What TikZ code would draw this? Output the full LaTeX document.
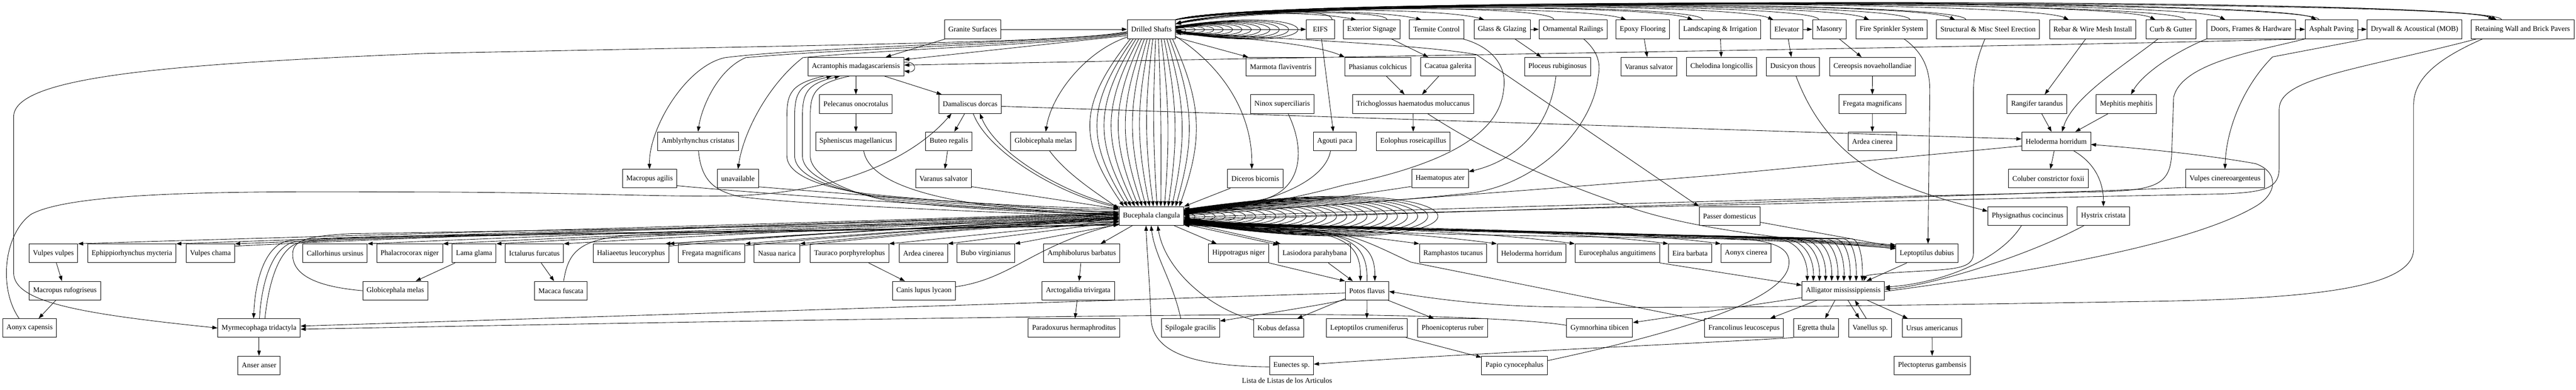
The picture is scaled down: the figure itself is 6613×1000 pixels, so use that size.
\documentclass[tikz,border=0pt]{standalone}
\usepackage{fontspec}
\setmainfont{Liberation Serif}
\usetikzlibrary{arrows.meta,calc}
\begin{document}
\begin{tikzpicture}[x=0.7512pt,y=-0.7512pt,
 box/.style={draw,line width=0.9pt,minimum height=36pt,minimum width=54pt,inner xsep=7.5pt,inner ysep=0pt,font=\fontsize{14pt}{16pt}\selectfont},
 edg/.style={line width=0.85pt,-{Triangle[length=10pt,width=7pt]}},
 edgr/.style={line width=0.85pt,{Triangle[length=10pt,width=7pt]}-},
 lin/.style={line width=0.85pt},
 captxt/.style={font=\fontsize{14pt}{16pt}\selectfont}]
\fill[white] (0,0) rectangle (6613,1000);
\useasboundingbox (0,0) rectangle (6613,1000);
% ---------------- row 0
\node[box] (gran) at (2497.1,75.3) {Granite Surfaces};
\node[box] (ds) at (2955.9,75.3) {Drilled Shafts};
\node[box] (eifs) at (3389.5,75.3) {EIFS};
\node[box] (exts) at (3521.3,75.3) {Exterior Signage};
\node[box] (term) at (3688,75.3) {Termite Control};
\node[box] (glass) at (3856,75.3) {Glass \& Glazing};
\node[box] (orn) at (4038.3,75.3) {Ornamental Railings};
\node[box] (epoxy) at (4216.9,75.3) {Epoxy Flooring};
\node[box] (land) at (4415.8,75.3) {Landscaping \& Irrigation};
\node[box] (elev) at (4586.6,75.3) {Elevator};
\node[box] (mas) at (4696,75.3) {Masonry};
\node[box] (fire) at (4855.7,75.3) {Fire Sprinkler System};
\node[box] (struc) at (5103.6,75.3) {Structural \& Misc Steel Erection};
\node[box] (rebar) at (5372.3,75.3) {Rebar \& Wire Mesh Install};
\node[box] (curb) at (5573.1,75.3) {Curb \& Gutter};
\node[box] (doors) at (5778.7,75.3) {Doors, Frames \& Hardware};
\node[box] (asph) at (5985.2,75.3) {Asphalt Paving};
\node[box] (dryw) at (6198.5,75.3) {Drywall \& Acoustical (MOB)};
\node[box] (retw) at (6475.7,75.3) {Retaining Wall and Brick Pavers};
% ---------------- row 1
\node[box] (acr) at (2197.2,171.1) {Acrantophis madagascariensis};
\node[box] (marm) at (3287.7,171.1) {Marmota flaviventris};
\node[box] (phas) at (3537.1,171.1) {Phasianus colchicus};
\node[box] (caca) at (3717.5,171.1) {Cacatua galerita};
\node[box] (ploc) at (3998.3,171.1) {Ploceus rubiginosus};
\node[box] (varB) at (4232.7,171.1) {Varanus salvator};
\node[box] (chel) at (4419.6,171.1) {Chelodina longicollis};
\node[box] (dus) at (4602.7,171.1) {Dusicyon thous};
\node[box] (cere) at (4806.9,171.1) {Cereopsis novaehollandiae};
% ---------------- row 2
\node[box] (pel) at (2197.2,267.0) {Pelecanus onocrotalus};
\node[box] (dam) at (2490.4,267.0) {Damaliscus dorcas};
\node[box] (ninox) at (3291.6,267.0) {Ninox superciliaris};
\node[box] (trich) at (3627.6,267.0) {Trichoglossus haematodus moluccanus};
\node[box] (fregB) at (4806.5,267.0) {Fregata magnificans};
\node[box] (rang) at (5229.2,267.0) {Rangifer tarandus};
\node[box] (meph) at (5458.5,267.0) {Mephitis mephitis};
% ---------------- row 3
\node[box] (amb) at (1792,362.8) {Amblyrhynchus cristatus};
\node[box] (sphen) at (2197.2,362.8) {Spheniscus magellanicus};
\node[box] (buteo) at (2436,362.8) {Buteo regalis};
\node[box] (globB) at (2678.5,362.8) {Globicephala melas};
\node[box] (agouti) at (3426.7,362.8) {Agouti paca};
\node[box] (eolo) at (3628,362.8) {Eolophus roseicapillus};
\node[box] (ardB) at (4806.6,362.8) {Ardea cinerea};
\node[box] (heloB) at (5278.6,362.8) {Heloderma horridum};
% ---------------- row 4
\node[box] (magil) at (1667.5,458.7) {Macropus agilis};
\node[box] (unav) at (1894.5,458.7) {unavailable};
\node[box] (varA) at (2422,458.7) {Varanus salvator};
\node[box] (dic) at (3222.5,458.7) {Diceros bicornis};
\node[box] (haem) at (3696.7,458.7) {Haematopus ater};
\node[box] (colu) at (5258.3,458.7) {Coluber constrictor foxii};
\node[box] (vcin) at (5711.8,458.7) {Vulpes cinereoargenteus};
% ---------------- row 5
\node[box] (buc) at (2955.9,554.5) {Bucephala clangula};
\node[box] (pass) at (4440,554.5) {Passer domesticus};
\node[box] (phys) at (5205.3,554.5) {Physignathus cocincinus};
\node[box] (hyst) at (5399.7,554.5) {Hystrix cristata};
% ---------------- row 6
\node[box] (vvul) at (137.1,650.4) {Vulpes vulpes};
\node[box] (ephi) at (338.5,650.4) {Ephippiorhynchus mycteria};
\node[box] (vcha) at (540.2,650.4) {Vulpes chama};
\node[box] (call) at (860.1,650.4) {Callorhinus ursinus};
\node[box] (phal) at (1051.6,650.4) {Phalacrocorax niger};
\node[box] (lama) at (1217.1,650.4) {Lama glama};
\node[box] (icta) at (1371.8,650.4) {Ictalurus furcatus};
\node[box] (hali) at (1619.8,650.4) {Haliaeetus leucoryphus};
\node[box] (fregA) at (1826.4,650.4) {Fregata magnificans};
\node[box] (nasua) at (1994.5,650.4) {Nasua narica};
\node[box] (taur) at (2181,650.4) {Tauraco porphyrelophus};
\node[box] (ardA) at (2370.8,650.4) {Ardea cinerea};
\node[box] (bubo) at (2530.5,650.4) {Bubo virginianus};
\node[box] (amph) at (2777,650.4) {Amphibolurus barbatus};
\node[box] (hipp) at (3179.7,650.4) {Hippotragus niger};
\node[box] (lasi) at (3374.8,650.4) {Lasiodora parahybana};
\node[box] (ramph) at (3730.4,650.4) {Ramphastos tucanus};
\node[box] (heloA) at (3931.8,650.4) {Heloderma horridum};
\node[box] (euro) at (4152,650.4) {Eurocephalus anguitimens};
\node[box] (eira) at (4338.6,650.4) {Eira barbata};
\node[box] (aonc) at (4482.4,650.4) {Aonyx cinerea};
\node[box] (lepd) at (4946.5,650.4) {Leptoptilus dubius};
% ---------------- row 7
\node[box] (mruf) at (166.6,746.2) {Macropus rufogriseus};
\node[box] (globA) at (1014.8,746.2) {Globicephala melas};
\node[box] (maca) at (1439.9,746.2) {Macaca fuscata};
\node[box] (canis) at (2371.9,746.2) {Canis lupus lycaon};
\node[box] (arct) at (2767.9,746.2) {Arctogalidia trivirgata};
\node[box] (potos) at (3509.4,746.2) {Potos flavus};
\node[box] (alli) at (4731.8,746.2) {Alligator mississippiensis};
% ---------------- row 8
\node[box] (aoncap) at (76.1,842.1) {Aonyx capensis};
\node[box] (myrm) at (665,842.1) {Myrmecophaga tridactyla};
\node[box] (parad) at (2757,842.1) {Paradoxurus hermaphroditus};
\node[box] (spil) at (3056.2,842.1) {Spilogale gracilis};
\node[box] (kobus) at (3282.5,842.1) {Kobus defassa};
\node[box] (lcrum) at (3508.7,842.1) {Leptoptilos crumeniferus};
\node[box] (phoen) at (3729,842.1) {Phoenicopterus ruber};
\node[box] (gymn) at (4106.4,842.1) {Gymnorhina tibicen};
\node[box] (fran) at (4477.2,842.1) {Francolinus leucoscepus};
\node[box] (egr) at (4662.3,842.1) {Egretta thula};
\node[box] (van) at (4801,842.1) {Vanellus sp.};
\node[box] (ursus) at (4959.8,842.1) {Ursus americanus};
% ---------------- row 9
\node[box] (anser) at (665,937.9) {Anser anser};
\node[box] (eun) at (3315.5,937.9) {Eunectes sp.};
\node[box] (papio) at (3887.9,937.9) {Papio cynocephalus};
\node[box] (plec) at (4960.2,937.9) {Plectopterus gambensis};
\node[captxt] (caption) at (3304,977) {Lista de Listas de los Articulos};

% ================= edges: top row
\draw[edg] (gran) -- (ds);
\draw[edg] (ds) -- (eifs);
\draw[edg] (glass) -- (orn);
\draw[edg] (elev) -- (mas);
\draw[edg] (doors) -- (asph);
\draw[edg] (asph) -- (dryw);
% Drilled Shafts self loops
\foreach \iv in {1,...,13}{
 \pgfmathsetmacro\exv{2+1.7*\iv}
 \pgfmathsetmacro\av{\exv/3}
 \pgfmathsetmacro\hv{(\exv-0.792*\av)/0.288}
 \pgfmathsetmacro\cxv{24*\iv/0.75}
 \draw[edg] ($(ds.east)+(0,-\av)$) .. controls ($(ds.east)+(\cxv,-\av-\hv)$) and ($(ds.east)+(\cxv,\av+\hv)$) .. ($(ds.east)+(0,\av)$);
}
% Drilled Shafts -> top row tasks
\foreach \tg/\dxv/\ycv in {exts/34/30, term/31/24, glass/27/19, epoxy/27/14, land/35/10, elev/8/6, fire/35/3, struc/48/0, rebar/50/-2, curb/25/-4, doors/48/-5, asph/29/-6, retw/58/-7, retw/66/-3}{
 \draw[edg] (ds.north east) .. controls (3170,\ycv) and ($(\tg.north west)+(\dxv-110,\ycv-51.4)$) .. ($(\tg.north west)+(\dxv,0)$);
}
% top row tasks -> Drilled Shafts
\foreach \tg/\dxv/\ycv in {eifs/67/22, exts/113/26, orn/39/12, land/61/8, mas/17/4, fire/140/1, struc/76/-1, curb/102/-3, asph/36/-5, retw/79/-8}{
 \draw[edgr] ($(ds.east)+(0,-14)$) .. controls (3230,\ycv) and ($(\tg.north west)+(\dxv,\ycv-51.4)$) .. ($(\tg.north west)+(\dxv,0)$);
}
% Drilled Shafts -> left side
\draw[edg] ($(ds.west)+(0,6)$) .. controls (2750,108) and (2300,112) .. (1100,137) .. controls (400,165) and (35,200) .. (35,300) -- (35,700) .. controls (35,775) and (200,805) .. (myrm.west);
\draw[edg] ($(ds.west)+(0,8)$) .. controls (2750,108) and (2100,118) .. (1861,148) .. controls (1760,170) and (1665,330) .. (magil.north);
\draw[edg] ($(ds.west)+(0,10)$) .. controls (2750,110) and (2200,122) .. (1914,148) .. controls (1840,180) and (1800,280) .. (amb.north);
\draw[edg] ($(ds.west)+(0,12)$) .. controls (2750,112) and (2300,125) .. (2061,148) .. controls (1980,210) and (1910,330) .. (unav.north);
\draw[edg] ($(ds.west)+(0,16)$) -- ($(acr.east)+(0,-18)$);
\draw[edg] ($(ds.west)+(0,20)$) .. controls (2790,130) and (2700,240) .. ($(globB.north)+(6,0)$);
\draw[edg] ($(ds.east)+(0,18)$) .. controls (3150,180) and (3215,300) .. ($(dic.north)+(-9,0)$);
\draw[edg] ($(ds.south east)+(0,-4)$) -- ($(marm.north west)+(6,0)$);
\draw[edg] ($(ds.east)+(0,12)$) .. controls (3200,96) and (3380,115) .. (phas.north west);
\draw[edg] ($(ds.east)+(0,8)$) .. controls (3300,100) and (3650,115) .. (3790,140) -- (pass.north west);
% Drilled Shafts -> Bucephala (bundle)
\foreach \iv in {0,...,15}{
 \pgfmathsetmacro\sxv{-54+7.2*\iv}
 \pgfmathsetmacro\env{-71+9.5*\iv}
 \pgfmathsetmacro\pkv{-157+18.1*\iv}
 \pgfmathsetmacro\ccv{(\pkv-0.125*(\sxv+\env))/0.75}
 \draw[edg] ($(ds.south)+(\sxv,0)$) .. controls ($(ds.south)+(\ccv,170)$) and ($(buc.north)+(\ccv,-170)$) .. ($(buc.north)+(\env,0)$);
}
% Bucephala self loops
\foreach \iv in {1,...,25}{
 \pgfmathsetmacro\exv{3+1.9*\iv}
 \pgfmathsetmacro\av{\exv/3}
 \pgfmathsetmacro\hv{(\exv-0.792*\av)/0.288}
 \pgfmathsetmacro\cxv{26*\iv/0.75}
 \draw[edg] ($(buc.east)+(0,-\av)$) .. controls ($(buc.east)+(\cxv,-\av-\hv)$) and ($(buc.east)+(\cxv,\av+\hv)$) .. ($(buc.east)+(0,\av)$);
}
% Acrantophis
\draw[edg] ($(gran.south west)+(3,0)$) -- ($(acr.north east)+(-47,0)$);
\draw[edg] ($(acr.east)+(0,-11)$) .. controls ($(acr.east)+(34,-16)$) and ($(acr.east)+(34,16)$) .. ($(acr.east)+(0,11)$);
\draw[edg] (asph.south west) .. controls (5300,118) and (3700,140) .. ($(acr.east)+(0,-4)$);
\draw[edg] (acr) -- (pel);
\draw[edg] (pel) -- (sphen);
\draw[edg] ($(acr.south east)+(-50,0)$) -- ($(dam.north west)+(8,0)$);
\draw[edg] ($(acr.south)+(-83,0)$) .. controls (2030,215) and (2020,240) .. (2020,300) -- (2020,400) .. controls (2020,460) and (2150,490) .. (2250,500) .. controls (2500,525) and (2750,535) .. ($(buc.west)+(0,-20)$);
\draw[edgr] ($(acr.south)+(-62,0)$) .. controls (2050,215) and (2040,240) .. (2040,300) -- (2040,400) .. controls (2040,458) and (2160,492) .. (2260,505) .. controls (2500,530) and (2750,540) .. ($(buc.west)+(0,-16)$);
\draw[edgr] ($(acr.south)+(-41,0)$) .. controls (2070,215) and (2060,240) .. (2060,300) -- (2060,400) .. controls (2060,455) and (2170,494) .. (2270,510) .. controls (2500,535) and (2750,545) .. ($(buc.west)+(0,-12)$);
\draw[edg] ($(acr.south)+(-17,0)$) .. controls (2090,215) and (2080,240) .. (2080,300) -- (2080,400) .. controls (2080,452) and (2180,496) .. (2280,515) .. controls (2500,540) and (2750,550) .. ($(buc.west)+(0,-8)$);
% Damaliscus
\draw[edg] (dam) -- (buteo);
\draw[edg] (buteo) -- (varA);
\draw[edg] ($(varA.south east)+(0,-4)$) -- ($(buc.west)+(0,-18)$);
\draw[edg] ($(dam.south)+(8,0)$) .. controls (2535,390) and (2720,500) .. ($(buc.west)+(0,-22)$);
\draw[edgr] ($(dam.south)+(25,0)$) .. controls (2560,400) and (2740,500) .. (buc.north west);
\draw[edg] ($(dam.east)+(0,6)$) -- ($(heloB.west)+(0,-6)$);
\draw[edg] ($(aoncap.north)+(-27,0)$) .. controls (-5,740) and (10,600) .. (80,550) .. controls (200,485) and (700,492) .. (1100,493) .. controls (1500,494) and (1750,508) .. (1900,502) .. controls (2150,492) and (2340,410) .. ($(dam.south west)+(33,0)$);
% others -> Bucephala (left/top)
\draw[edg] ($(sphen.south)+(20,0)$) .. controls (2240,520) and (2650,545) .. ($(buc.west)+(0,-4)$);
\draw[edg] ($(globB.south)+(16,0)$) .. controls (2740,450) and (2830,505) .. ($(buc.north west)+(0,6)$);
\draw[edg] ($(amb.south)+(1,0)$) .. controls (1800,460) and (1830,490) .. (1900,505) .. controls (2100,530) and (2600,545) .. ($(buc.west)+(0,4)$);
\draw[edg] ($(magil.east)+(0,18)$) .. controls (1950,497) and (2500,535) .. ($(buc.west)+(0,-2)$);
\draw[edg] ($(unav.east)+(0,21)$) .. controls (2100,492) and (2500,523) .. ($(buc.west)+(0,-8)$);
\draw[edg] ($(dic.south west)+(8,0)$) -- (buc.north east);
% others -> Bucephala (right)
\draw[edg] ($(ninox.south)+(15,0)$) .. controls (3350,380) and (3345,480) .. (3250,510) .. controls (3150,532) and (3080,540) .. ($(buc.east)+(0,-12)$);
\draw[edg] ($(agouti.south)+(-11,0)$) .. controls (3400,470) and (3250,530) .. ($(buc.east)+(0,-8)$);
\draw[edg] ($(haem.west)+(0,20)$) .. controls (3450,505) and (3200,540) .. ($(buc.east)+(0,-4)$);
\draw[edg] ($(term.south east)+(-3,0)$) .. controls (3830,120) and (3870,170) .. (3860,230) .. controls (3850,340) and (3720,420) .. (3450,475) .. controls (3250,530) and (3100,540) .. ($(buc.east)+(0,-16)$);
\draw[edg] ($(orn.south)+(27,0)$) .. controls (4100,130) and (4110,160) .. (4103,195) .. controls (4090,330) and (3950,470) .. (3780,495) .. controls (3500,525) and (3150,545) .. ($(buc.east)+(0,-20)$);
\draw[edg] ($(heloB.west)+(0,12)$) -- (4400,450) .. controls (3800,500) and (3200,540) .. (buc.east);
\draw[edg] (asph.south west) .. controls (5800,130) and (5600,160) .. (5580,250) -- (5575,395) .. controls (5571,470) and (5540,488) .. (5400,492) .. controls (4800,505) and (3500,540) .. ($(buc.east)+(0,4)$);
\draw[edg] ($(retw.south west)+(15,0)$) .. controls (6050,180) and (5851,200) .. (5851,280) -- (5851,430) .. controls (5851,482) and (5820,494) .. (5700,498) .. controls (5000,512) and (3600,545) .. ($(buc.east)+(0,8)$);
\draw[edg] ($(vcin.south west)+(0,-2)$) .. controls (5400,492) and (3600,548) .. ($(buc.east)+(0,12)$);
\draw[edg] (dryw.south west) -- (5834,146) .. controls (5760,220) and (5715,330) .. (vcin.north);
% Bucephala -> right row 6
\draw[edg] ($(buc.south east)+(-26,0)$) -- ($(hipp.north west)+(22,0)$);
\draw[edg] ($(buc.south east)+(0,-4)$) -- ($(lasi.north west)+(0,3)$);
\draw[edg] ($(buc.south east)+(0,-9)$) -- ($(lasi.north west)+(6,0)$);
\draw[edg] (hipp.south east) -- (potos.north west);
\draw[edg] ($(lasi.south)+(35,0)$) -- ($(potos.north west)+(20,0)$);
\draw[edg] ($(buc.east)+(0,16)$) .. controls (3420,585) and (3493,600) .. ($(potos.north)+(-17,0)$);
\draw[edg] (potos.north) .. controls (3512,600) and (3440,583) .. ($(buc.east)+(0,14)$);
\draw[edg] ($(buc.east)+(0,18)$) .. controls (3460,588) and (3530,605) .. ($(potos.north)+(20,0)$);
\foreach \tg/\dyv/\cv in {ramph/-14/3350, heloA/-12/3500, euro/-10/3700, eira/-8/3900, aonc/-6/4050}{
 \draw[edg] ($(buc.south east)+(0,\dyv)$) .. controls (\cv,590) and ($(\tg.north west)+(-150,-20)$) .. (\tg.north west);
}
\foreach \kv in {0,1,2,3}{
 \draw[edg] ($(buc.south east)+(0,-5+\kv)$) .. controls (3600,588+\kv) and (4500,600+2*\kv) .. ($(lepd.north west)+(0,3+3*\kv)$);
}
\foreach \kv in {0,...,9}{
 \pgfmathsetmacro\mkv{4555+22*\kv}
 \pgfmathsetmacro\ekv{14+15.7*\kv}
 \pgfmathsetmacro\eav{4627.3+\ekv}
 \pgfmathsetmacro\cbv{\mkv+0.7*(\eav-\mkv)}
 \draw[edg] ($(buc.south east)+(0,-13+0.8*\kv)$) .. controls (3500,588) and (4200,600) .. (\mkv,613) .. controls (\cbv,614) and (\eav,665) .. ($(alli.north west)+(\ekv,0)$);
}
% Bucephala -> left row 6
\foreach \tg/\xrv/\dyv in {vvul/200.6/-10, ephi/451.8/-8, vcha/603.3/-6, call/942.2/-4, phal/1136.5/-2, lama/1272.6/0, icta/1447.3/2, hali/1716.6/4, fregA/1911.7/6, nasua/2053.4/8}{
 \pgfmathsetmacro\cav{2873.5-0.3*(2873.5-\xrv)}
 \pgfmathsetmacro\cbv{\xrv+0.25*(2873.5-\xrv)}
 \draw[edg] ($(buc.west)+(0,\dyv)$) .. controls (\cav,575) and (\cbv,604) .. (\tg.north east);
}
\draw[edg] ($(buc.west)+(0,5)$) .. controls (2500,577) and (2000,606) .. ($(hali.north east)+(-10,0)$);
\draw[edgr] ($(buc.west)+(0,-5)$) .. controls (2100,577) and (1200,602) .. ($(vcha.north east)+(0,6)$);
\draw[edgr] ($(buc.west)+(0,3)$) .. controls (2450,578) and (2000,605) .. ($(hali.north east)+(0,6)$);
\draw[edgr] ($(buc.west)+(0,7)$) .. controls (2550,578) and (2150,606) .. ($(fregA.north east)+(0,5)$);
\draw[edgr] ($(buc.west)+(0,9)$) .. controls (2600,580) and (2250,607) .. ($(nasua.north east)+(0,5)$);
\draw[edg] ($(buc.west)+(0,12)$) -- (taur.north east);
\draw[edg] ($(buc.west)+(0,15)$) -- (ardA.north east);
\draw[edg] ($(buc.south west)+(0,-3)$) -- (bubo.north east);
\draw[edg] ($(buc.south west)+(35,0)$) -- ($(amph.north east)+(-50,0)$);
% Myrmecophaga
\draw[edg] ($(buc.west)+(0,20)$) .. controls (2000,600) and (900,598) .. (740,618) .. controls (680,630) and (655,720) .. ($(myrm.north)+(-14,0)$);
\draw[edg] ($(myrm.north)+(1,0)$) .. controls (672,720) and (700,635) .. (755,621) .. controls (900,600) and (2000,597) .. ($(buc.west)+(0,22)$);
\draw[edg] ($(myrm.north)+(15,0)$) .. controls (690,725) and (715,640) .. (765,624) .. controls (900,602) and (2000,599) .. ($(buc.west)+(0,23)$);
\draw[edg] (myrm) -- (anser);
\draw[edg] (globA.west) .. controls (800,735) and (745,700) .. (752,645) .. controls (756,615) and (800,605) .. (900,600) .. controls (1500,590) and (2500,572) .. ($(buc.west)+(0,14)$);
\draw[edg] ($(lama.south west)+(8,0)$) -- ($(globA.north east)+(-32,0)$);
\draw[edg] (icta) -- (maca);
\draw[edg] ($(maca.north)+(7,0)$) .. controls (1460,640) and (1490,600) .. (1700,603) .. controls (2300,590) and (2600,576) .. ($(buc.west)+(0,16)$);
\draw[edg] (taur) -- (canis);
\draw[edg] ($(canis.east)+(0,-10)$) .. controls (2600,715) and (2650,630) .. ($(buc.south west)+(0,-4)$);
\draw[edg] (amph) -- (arct);
\draw[edg] (arct) -- (parad);
\draw[edg] (vvul) -- (mruf);
\draw[edg] (mruf) -- (aoncap);
% Potos flavus
\draw[edg] (potos) -- (lcrum);
\draw[edg] ($(potos.south east)+(-3,0)$) -- ($(phoen.north west)+(42,0)$);
\draw[edg] ($(potos.south west)+(0,-4)$) -- ($(kobus.north east)+(-17,0)$);
\draw[edg] ($(potos.south west)+(0,-1)$) .. controls (3380,785) and (3250,805) .. ($(spil.east)+(0,-18)$);
\draw[edg] ($(potos.west)+(0,6)$) -- ($(myrm.east)+(0,-5)$);
\draw[edg] ($(gymn.west)+(0,-7)$) .. controls (3900,815) and (3500,805) .. (3200,808) .. controls (2500,813) and (1400,833) .. ($(myrm.east)+(0,3)$);
\draw[edg] ($(kobus.north west)+(0,4)$) .. controls (3100,790) and (2990,690) .. ($(buc.south)+(16,0)$);
\draw[edg] ($(spil.north)+(-25,0)$) .. controls (3010,720) and (2965,660) .. ($(buc.south)+(-1,0)$);
\draw[edg] ($(eun.west)+(0,4)$) .. controls (3050,940) and (2960,900) .. (2955,820) .. controls (2950,700) and (2944,640) .. ($(buc.south)+(-14,0)$);
\draw[edg] ($(fran.north west)+(0,6)$) -- (3622,673) .. controls (3560,645) and (3500,612) .. (3440,602) .. controls (3300,588) and (3150,584) .. ($(buc.south east)+(0,-1)$);
\draw[edg] ($(papio.east)+(0,-12)$) .. controls (4280,860) and (4560,780) .. (4590,690) .. controls (4605,640) and (4560,616) .. (4450,613) .. controls (3800,606) and (3300,592) .. ($(buc.south east)+(0,-3)$);
\draw[edg] ($(retw.south west)+(30,0)$) .. controls (6260,150) and (6196,200) .. (6196,270) -- (6196,640) .. controls (6196,745) and (5900,768) .. (5500,774) .. controls (5000,782) and (4400,792) .. (4000,788) .. controls (3800,786) and (3650,762) .. ($(potos.east)+(0,2)$);
% Alligator
\draw[edg] ($(alli.west)+(0,18)$) -- ($(gymn.east)+(0,-14)$);
\draw[edg] ($(alli.south west)+(40,0)$) -- ($(fran.north east)+(-35,0)$);
\draw[edg] ($(alli.south)+(-21,0)$) -- ($(egr.north)+(23,0)$);
\draw[edg] ($(alli.south)+(12,0)$) -- ($(van.north)+(-28,0)$);
\draw[edg] ($(van.north)+(-10,0)$) -- ($(alli.south)+(30,0)$);
\draw[edg] ($(alli.south east)+(-45,0)$) -- ($(ursus.north west)+(15,0)$);
\draw[edg] (ursus) -- (plec);
\draw[edg] (euro.south east) -- ($(alli.west)+(0,-14)$);
\draw[edg] ($(lepd.south west)+(29,0)$) -- ($(alli.north east)+(-47,0)$);
\draw[edg] ($(pass.east)+(0,16)$) -- ($(lepd.north west)+(0,8)$);
\draw[edg] ($(trich.south)+(37,0)$) .. controls (3800,380) and (3950,450) .. (4150,520) .. controls (4350,600) and (4700,622) .. ($(lepd.west)+(0,-12)$);
\draw[edg] ($(hyst.south west)+(18,0)$) .. controls (5200,660) and (4950,735) .. ($(alli.east)+(0,-4)$);
\draw[edg] ($(phys.south)+(-16,0)$) .. controls (5140,660) and (5000,725) .. ($(alli.east)+(0,-9)$);
\draw[edg] ($(alli.east)+(0,2)$) .. controls (5200,700) and (5620,630) .. (5790,530) .. controls (5850,495) and (5848,440) .. (5790,420) .. controls (5650,395) and (5480,380) .. ($(heloB.east)+(0,8)$);
\draw[edg] (egr.south west) .. controls (4400,880) and (3800,905) .. ($(eun.east)+(0,-3)$);
\draw[edg] ($(lcrum.south east)+(-4,0)$) -- ($(papio.north west)+(0,4)$);
% row 0 -> row 1 and below
\draw[edg] ($(eifs.south)+(3,0)$) -- ($(agouti.north)+(-4,0)$);
\draw[edg] ($(exts.south east)+(-23,0)$) -- ($(caca.north west)+(20,0)$);
\draw[edg] ($(glass.south east)+(-40,0)$) -- ($(ploc.north west)+(44,0)$);
\draw[edg] ($(phas.south)+(22,0)$) -- ($(trich.north)+(-22,0)$);
\draw[edg] ($(caca.south)+(-24,0)$) -- ($(trich.north)+(23,0)$);
\draw[edg] (trich) -- (eolo);
\draw[edg] ($(ploc.south)+(-4,0)$) .. controls (3980,320) and (3900,410) .. ($(haem.east)+(0,-18)$);
\draw[edg] (epoxy) -- (varB);
\draw[edg] (land) -- (chel);
\draw[edg] (elev) -- (dus);
\draw[edg] ($(mas.south east)+(-18,0)$) -- ($(cere.north)+(-28,0)$);
\draw[edg] (cere) -- (fregB);
\draw[edg] (fregB) -- (ardB);
\draw[edg] ($(dus.south)+(8,0)$) .. controls (4650,300) and (4720,400) .. (4850,460) .. controls (4950,505) and (5050,528) .. ($(phys.west)+(0,-12)$);
\draw[edg] ($(fire.south)+(32,0)$) .. controls (4945,140) and (4955,190) .. (4954,240) -- ($(lepd.north)+(3,0)$);
\draw[edg] ($(struc.south)+(-8,0)$) .. controls (5075,150) and (5066,190) .. (5066,240) -- (5066,650) .. controls (5066,685) and (5030,690) .. (4950,695) .. controls (4850,700) and (4790,705) .. ($(alli.north east)+(-54,0)$);
\draw[edg] ($(rebar.south)+(-18,0)$) -- ($(rang.north)+(20,0)$);
\draw[edg] ($(rang.south)+(12,0)$) -- ($(heloB.north)+(-12,0)$);
\draw[edg] ($(meph.south west)+(32,0)$) -- ($(heloB.north east)+(-40,0)$);
\draw[edg] ($(curb.south west)+(32,0)$) .. controls (5450,170) and (5320,250) .. ($(heloB.north)+(15,0)$);
\draw[edg] (doors.south west) .. controls (5580,135) and (5500,190) .. ($(meph.north)+(12,0)$);
\draw[edg] (heloB) -- (colu);
\draw[edg] ($(heloB.south east)+(-44,0)$) .. controls (5380,420) and (5400,470) .. (hyst.north);
\end{tikzpicture}
\end{document}
